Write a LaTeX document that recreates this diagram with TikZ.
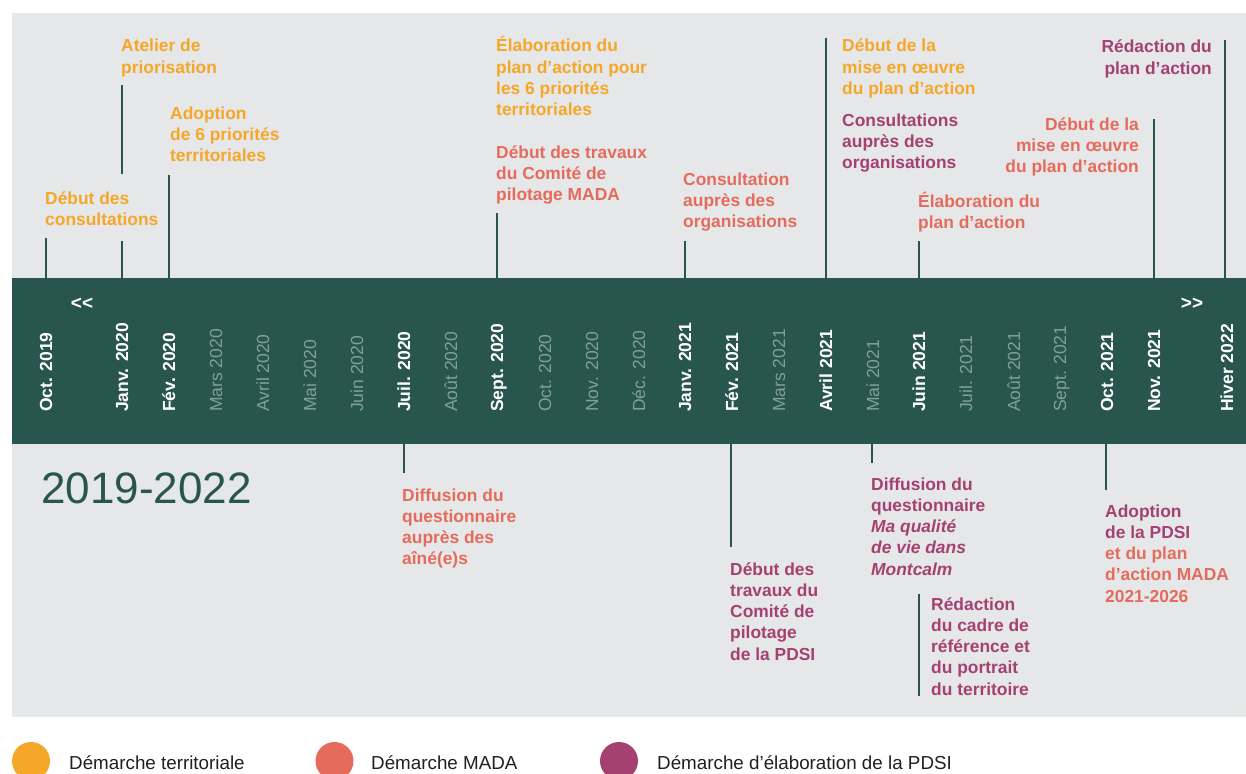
\documentclass[tikz,border=0pt]{standalone}
\usepackage{fontspec}
\setmainfont{Liberation Sans}
\usepackage{tikz}
\usetikzlibrary{positioning}

\definecolor{dkgreen}{RGB}{40,85,78}
\definecolor{panelgray}{RGB}{230,231,232}
\definecolor{terrorange}{RGB}{245,167,40}
\definecolor{madasalmon}{RGB}{229,108,92}
\definecolor{pdsipurple}{RGB}{165,65,112}
\definecolor{dimmonth}{RGB}{128,160,152}
\definecolor{legtext}{RGB}{35,31,32}

\tikzset{
  evt/.style={font=\bfseries\fontsize{17.4}{21.3}\selectfont,align=left,inner sep=0pt,anchor=base west},
  evtr/.style={evt,align=right,anchor=base east},
  tickln/.style={draw=dkgreen,line width=2.5pt},
  monthlbl/.style={font=\bfseries\fontsize{17.5}{20}\selectfont,text=white,rotate=90,anchor=base west,inner sep=0pt},
  dimlbl/.style={monthlbl,font=\fontsize{17.5}{20}\selectfont,text=dimmonth},
  arrlbl/.style={font=\bfseries\fontsize{19}{20}\selectfont,text=white,inner sep=0pt},
  legdot/.style={circle,minimum size=38pt,inner sep=0pt},
  legtxt/.style={font=\fontsize{18.8}{22}\selectfont,text=legtext,anchor=base west,inner sep=0pt}
}

\begin{document}
\begin{tikzpicture}[x=1pt,y=-1pt]
        \useasboundingbox (0,0) rectangle (1246,773);
        \fill[white] (0,0) rectangle (1246,773);
        \fill[panelgray] (12,13) rectangle (1246,717);

        \node[fill=dkgreen,minimum width=1234pt,minimum height=166pt,inner sep=0pt,anchor=north west] (band) at (12,278) {};

        % months on the band
        \foreach \x/\m in {46/Oct. 2019,122/Janv. 2020,169/Fév. 2020,404/Juil. 2020,497/Sept. 2020,685/Janv. 2021,732/Fév. 2021,826/Avril 2021,919/Juin 2021,1107/Oct. 2021,1154/Nov. 2021,1227/Hiver 2022}
            \node[monthlbl] (m\x) at (\x+6,412) {\m};
        \foreach \x/\m in {216/Mars 2020,263/Avril 2020,310/Mai 2020,357/Juin 2020,451/Août 2020,545/Oct. 2020,592/Nov. 2020,639/Déc. 2020,779/Mars 2021,873/Mai 2021,966/Juil. 2021,1014/Août 2021,1060/Sept. 2021}
            \node[dimlbl] (m\x) at (\x+6,412) {\m};

        \node[arrlbl] (prev) at (82,304) {<{}<};
        \node[arrlbl] (next) at (1192,304) {>{}>};

        \node[font=\fontsize{44}{50}\selectfont,text=dkgreen,anchor=base west,inner sep=0pt] (title) at (41,503) {2019-2022};

        % events above (placed at the baseline of their last line)
        \node[evt,text=terrorange] (consult) at (45,225.3) {Début des\\consultations};
        \node[evt,text=terrorange] (atelier) at (121,73.3) {Atelier de\\priorisation};
        \node[evt,text=terrorange] (adopt6) at (170,161.6) {Adoption\\de 6 priorités\\territoriales};
        \node[evt,text=terrorange] (elabterr) at (496,115.9) {Élaboration du\\plan d’action pour\\les 6 priorités\\territoriales};
        \node[evt,text=madasalmon] (comimada) at (496,200.6) {Début des travaux\\du Comité de\\pilotage MADA};
        \node[evt,text=madasalmon] (consorg) at (683,227.6) {Consultation\\auprès des\\organisations};
        \node[evt,text=terrorange] (miseterr) at (842,94.6) {Début de la\\mise en œuvre\\du plan d’action};
        \node[evt,text=pdsipurple] (consorgp) at (842,168.6) {Consultations\\auprès des\\organisations};
        \node[evt,text=madasalmon] (elabmada) at (918,228.3) {Élaboration du\\plan d’action};
        \node[evtr,text=madasalmon] (misemada) at (1139,172.6) {Début de la\\mise en œuvre\\du plan d’action};
        \node[evtr,text=pdsipurple] (redplan) at (1212,74.3) {Rédaction du\\plan d’action};

        % events below
        \node[evt,text=madasalmon] (diffaines) at (402,564.9) {Diffusion du\\questionnaire\\auprès des\\aîné(e)s};
        \node[evt,text=pdsipurple] (comipdsi) at (730,660.2) {Début des\\travaux du\\Comité de\\pilotage\\de la PDSI};
        \node[evt,text=pdsipurple] (diffmqv) at (871,575.2) {Diffusion du\\questionnaire\\\textit{Ma qualité}\\\textit{de vie dans}\\\textit{Montcalm}};
        \node[evt,text=pdsipurple] (redcadre) at (931,695.2) {Rédaction\\du cadre de\\référence et\\du portrait\\du territoire};
        \node[evt,text=pdsipurple] (adoptpdsi) at (1105,602.2) {Adoption\\de la PDSI\\\textcolor{madasalmon}{et du plan}\\\textcolor{madasalmon}{d’action MADA}\\\textcolor{madasalmon}{2021-2026}};

        % ticks
        \foreach \x/\y in {46/238,122/241,169/175,497/213,685/241,826/38,919/241,1154/119,1225/40} {
            \coordinate (up\x) at (\x,\y);
            \draw[tickln] (up\x) -- (up\x |- band.north);
        }
        \coordinate (atelA) at (122,85);
        \coordinate (atelB) at (122,174);
        \draw[tickln] (atelA) -- (atelB);
        \foreach \x/\y in {404/473,731/547,872/463,1106/490} {
            \coordinate (dn\x) at (\x,\y);
            \draw[tickln] (dn\x |- band.south) -- (dn\x);
        }
        \coordinate (cadreA) at (919,594);
        \coordinate (cadreB) at (919,696);
        \draw[tickln] (cadreA) -- (cadreB);

        % legend
        \node[legdot,fill=terrorange] (dot1) at (31,761) {};
        \node[legtxt] (leg1) at (69,769) {Démarche territoriale};
        \node[legdot,fill=madasalmon] (dot2) at (334.5,761) {};
        \node[legtxt] (leg2) at (371,769) {Démarche MADA};
        \node[legdot,fill=pdsipurple] (dot3) at (619,761) {};
        \node[legtxt] (leg3) at (657,769) {Démarche d’élaboration de la PDSI};
\end{tikzpicture}
\end{document}
